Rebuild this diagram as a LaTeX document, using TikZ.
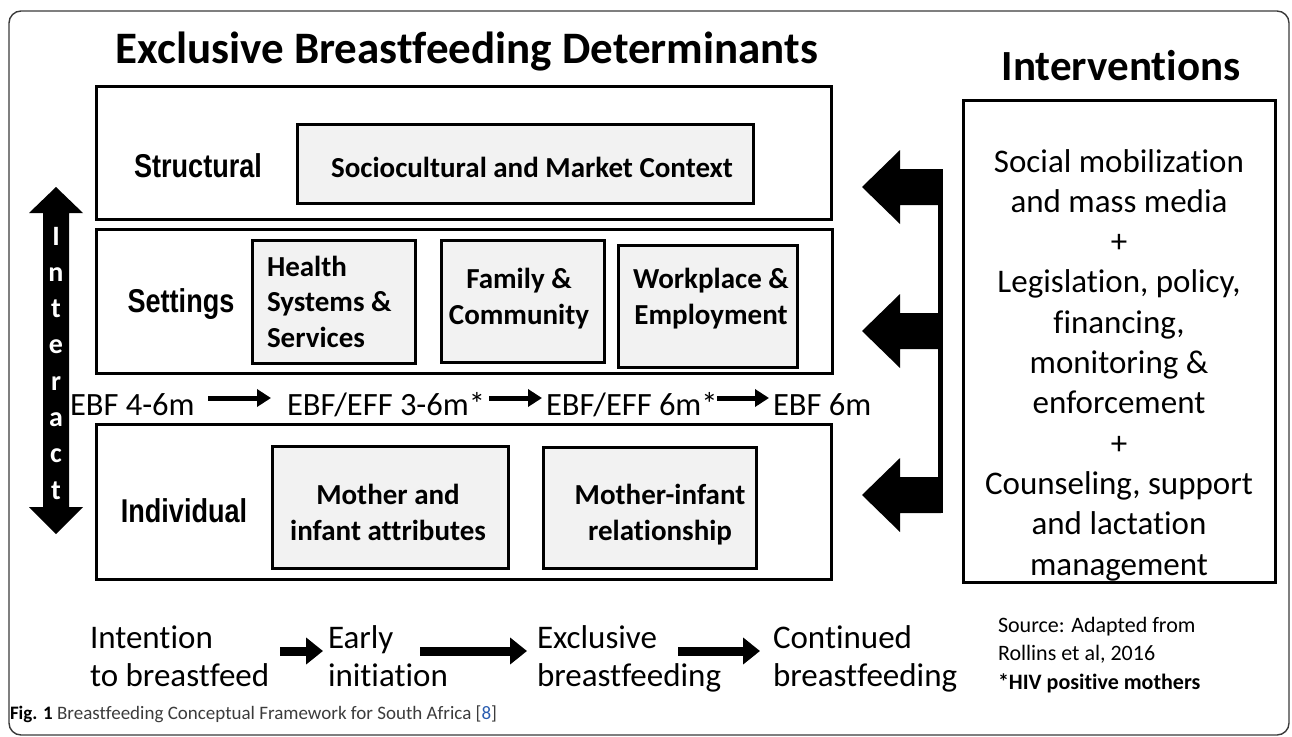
\documentclass[tikz,border=0pt]{standalone}
\usepackage{fontspec}
\setmainfont[Ligatures=CommonOff]{Carlito}
\newfontfamily\narrowfont[FakeStretch=0.82]{Liberation Sans}
\usetikzlibrary{arrows.meta}
\definecolor{boxgray}{HTML}{F2F2F2}
\definecolor{framegray}{HTML}{3A3A3A}
\definecolor{captiongray}{HTML}{3C3C3C}
\definecolor{linkblue}{HTML}{2A5DB0}
\newcommand{\setfs}[2]{\fontsize{#1pt}{#2pt}\selectfont}
\begin{document}
\begin{tikzpicture}[x=1pt,y=-1pt,
  frame/.style={draw=framegray,line width=1.4pt,rounded corners=12pt},
  layer/.style={draw=black,line width=3pt,fill=white,inner sep=0pt},
  factor/.style={draw=black,line width=3pt,fill=boxgray,inner sep=0pt},
  txt/.style={inner sep=0pt,outer sep=0pt},
  levellabel/.style={txt,anchor=base,font=\narrowfont\bfseries\setfs{33}{40}},
  factortext/.style={txt,anchor=base,align=center,font=\bfseries\setfs{29}{35.5}},
  ebftext/.style={txt,anchor=base west,font=\setfs{32.5}{38}},
  steptext/.style={txt,anchor=base west,align=left,font=\setfs{33}{38}},
  ebfarrow/.style={line width=5pt,-{Triangle[length=14pt,width=17pt]}},
  steparrow/.style={line width=9pt,-{Triangle[length=17pt,width=26pt]}},
  interactletter/.style={txt,anchor=base,text=white,font=\bfseries\setfs{28}{30}},
  blockarrow/.style={fill=black,draw=none}
]
\useasboundingbox (0,0) rectangle (1292,736);
\draw[frame] (9,11) rectangle (1289,735);

% titles
\node[txt,anchor=base,font=\bfseries\setfs{45}{50}] (title) at (467,63) {Exclusive Breastfeeding Determinants};
\node[txt,anchor=base,font=\bfseries\setfs{43}{50}] (intertitle) at (1121,80) {Interventions};

% level boxes
\node[layer,minimum width=735,minimum height=133] (structural) at (463.5,152.5) {};
\node[layer,minimum width=736,minimum height=144] (settings) at (464,301) {};
\node[layer,minimum width=735,minimum height=155] (individual) at (463.5,501.5) {};

\node[levellabel] (structlabel) at (198,177) {Structural};
\node[levellabel] (setlabel) at (181,312) {Settings};
\node[levellabel] (indlabel) at (184,522) {Individual};

% factor boxes
\node[factor,minimum width=456,minimum height=79] (socio) at (525,163.5) {};
\node[factortext] (sociotext) at (532,177) {Sociocultural and Market Context};

\node[factor,minimum width=163,minimum height=123] (health) at (333.5,301.5) {};
\node[factortext,anchor=base west,align=left] (healthtext) at (267,347) {Health\\Systems \&\\Services};

\node[factor,minimum width=163,minimum height=122] (family) at (522.5,301) {};
\node[factortext] (familytext) at (519,324) {Family \&\\Community};

\node[factor,minimum width=179,minimum height=122] (work) at (707.5,306) {};
\node[factortext] (worktext) at (711,324) {Workplace \&\\Employment};

\node[factor,minimum width=236,minimum height=122] (mia) at (390,507) {};
\node[factortext] (miatext) at (388,540) {Mother and\\infant attributes};

\node[factor,minimum width=213,minimum height=121] (mir) at (649.5,507.5) {};
\node[factortext] (mirtext) at (660,540) {Mother-infant\\relationship};

% EBF row
\node[ebftext] (ebf1) at (70,415) {EBF 4-6m};
\node[ebftext] (ebf2) at (287,415) {EBF/EFF 3-6m*};
\node[ebftext] (ebf3) at (546,415) {EBF/EFF 6m*};
\node[ebftext] (ebf4) at (773,415) {EBF 6m};
\draw[ebfarrow] ([shift={(138,-17)}]ebf1.base west) -- ([shift={(-16,-17)}]ebf2.base west);
\draw[ebfarrow] ([shift={(202,-17)}]ebf2.base west) -- ([shift={(-4,-17)}]ebf3.base west);
\draw[ebfarrow] ([shift={(171,-17)}]ebf3.base west) -- ([shift={(-4,-17)}]ebf4.base west);

% interact double arrow
\fill[blockarrow] (56,187) -- (83,213) -- (69,213) -- (69,507) -- (83,507) -- (56,534)
  -- (29,507) -- (43,507) -- (43,213) -- (29,213) -- cycle;
\foreach \ch [count=\i from 0] in {I,n,t,e,r,a,c,t}{
  \node[interactletter] (interact\i) at (56,245+36.3*\i) {\ch};
}

% interventions box
\node[layer,minimum width=312,minimum height=482] (interv) at (1119,341) {};
\node[txt,anchor=base,align=center,font=\setfs{33}{40.3}] (intervtext) at (1119,575)
 {Social mobilization\\and mass media\\+\\Legislation, policy,\\financing,\\monitoring \&\\enforcement\\+\\Counseling, support\\and lactation\\management};

% block arrows from interventions
\coordinate (spinetop) at (940,169);
\coordinate (spinebot) at (940,513);
\foreach \c/\nm in {187/one,331/two,495/three}{
  \fill[blockarrow] (862,\c) -- (900,\c-37) -- (900,\c-18) -- (941,\c-18) -- (941,\c+18)
     -- (900,\c+18) -- (900,\c+37) -- cycle;
}
\draw[line width=5pt] (spinetop) -- (spinebot);

% bottom steps
\node[steptext] (intent) at (90,686) {Intention\\to breastfeed};
\node[steptext] (early) at (328,686) {Early\\initiation};
\node[steptext] (excl) at (537,686) {Exclusive\\breastfeeding};
\node[steptext] (cont) at (773,686) {Continued\\breastfeeding};
\draw[steparrow] ([shift={(190,-35)}]intent.base west) -- ([shift={(-5,-35)}]early.base west);
\draw[steparrow] ([shift={(92,-35)}]early.base west) -- ([shift={(-10,-35)}]excl.base west);
\draw[steparrow] ([shift={(141,-35)}]excl.base west) -- ([shift={(-13,-35)}]cont.base west);

% source notes
\node[txt,anchor=base west,align=left,font=\setfs{22}{28.5}] (source) at (998,689)
 {Source: Adapted from\\Rollins et al, 2016\\\textbf{*HIV positive mothers}};

% caption
\node[txt,anchor=base west,font=\setfs{19}{22},text=captiongray] (caption) at (10,719)
 {\textcolor{black}{\bfseries Fig. 1} Breastfeeding Conceptual Framework for South Africa [\textcolor{linkblue}{8}]};
\end{tikzpicture}
\end{document}
